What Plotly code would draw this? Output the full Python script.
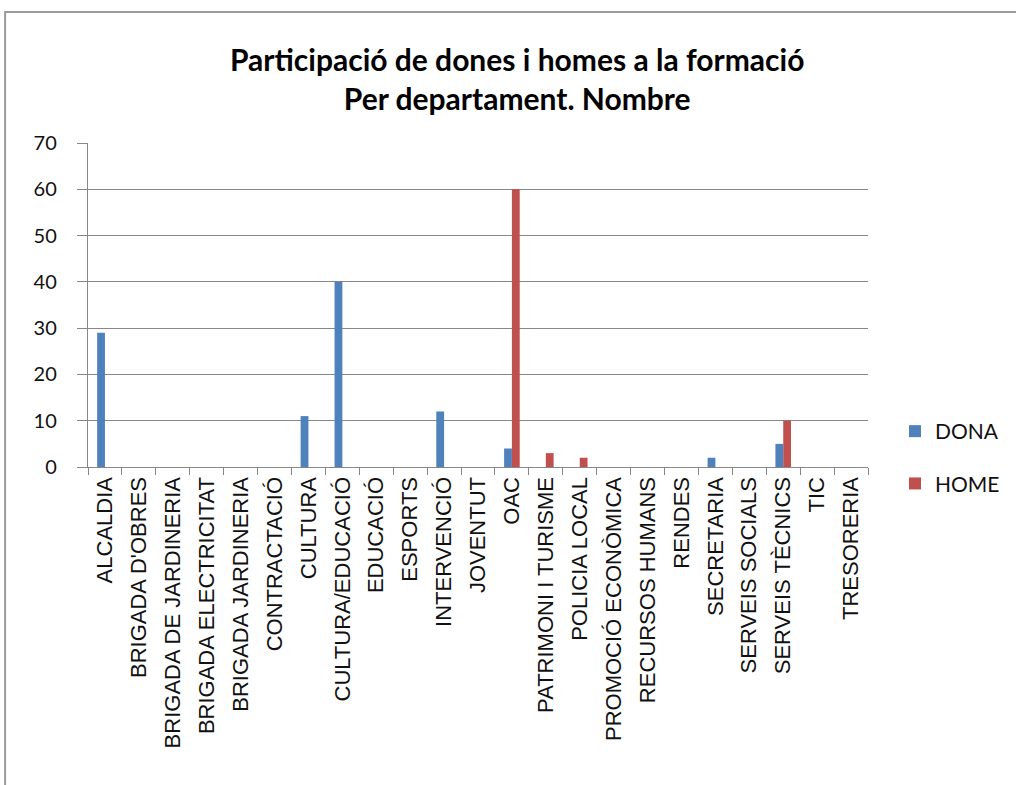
import plotly.graph_objects as go

departaments = [
    "ALCALDIA", "BRIGADA D'OBRES", "BRIGADA DE JARDINERIA", "BRIGADA ELECTRICITAT",
    "BRIGADA JARDINERIA", "CONTRACTACIÓ", "CULTURA", "CULTURA/EDUCACIÓ", "EDUCACIÓ",
    "ESPORTS", "INTERVENCIÓ", "JOVENTUT", "OAC", "PATRIMONI I TURISME", "POLICIA LOCAL",
    "PROMOCIÓ ECONÒMICA", "RECURSOS HUMANS", "RENDES", "SECRETARIA", "SERVEIS SOCIALS",
    "SERVEIS TÈCNICS", "TIC", "TRESORERIA",
]
dona = [29, 0, 0, 0, 0, 0, 11, 40, 0, 0, 12, 0, 4, 0, 0, 0, 0, 0, 2, 0, 5, 0, 0]
home = [0, 0, 0, 0, 0, 0, 0, 0, 0, 0, 0, 0, 60, 3, 2, 0, 0, 0, 0, 0, 10, 0, 0]
y_ticks = [0, 10, 20, 30, 40, 50, 60, 70]

GRID = "#878787"
SANS = "Liberation Sans, Arial, sans-serif"
HUMAN = "Lato, Liberation Sans, sans-serif"

fig = go.Figure()
fig.add_trace(go.Bar(x=departaments, y=dona, name="DONA", marker_color="#4F81BD",
                     marker_line_width=0, legendgroup="d"))
fig.add_trace(go.Bar(x=departaments, y=home, name="HOME", marker_color="#C0504D",
                     marker_line_width=0, legendgroup="h"))

W, H = 1016, 785
L, R, T, B = 88, 147, 143, 318
pw, ph = W - L - R, H - T - B

fig.update_layout(
    width=W, height=H,
    margin=dict(l=L, r=R, t=T, b=B, pad=0),
    paper_bgcolor="white", plot_bgcolor="white",
    barmode="group", bargap=0.54, bargroupgap=0,
    font=dict(family=HUMAN, size=18, color="#000000"),
    showlegend=True,
    legend=dict(x=(895 - L) / pw, xanchor="left", y=(467 - 411) / ph, yanchor="top",
                traceorder="grouped", tracegroupgap=22, itemwidth=30,
                font=dict(size=21, family=HUMAN, color="#111111"),
                bgcolor="rgba(0,0,0,0)"),
    xaxis=dict(
        type="category", tickangle=-90, tickson="boundaries",
        ticks="outside", ticklen=7, tickcolor=GRID, tickwidth=1.4,
        showline=True, linecolor=GRID, linewidth=1.4, showgrid=False,
        tickfont=dict(size=22, family=SANS, color="#111111"), automargin=False,
    ),
    yaxis=dict(
        range=[0, 70], tickvals=y_ticks, ticks="outside", ticklen=10,
        tickcolor=GRID, tickwidth=1.4, showline=True, linecolor=GRID, linewidth=1.4,
        showgrid=True, gridcolor=GRID, gridwidth=1.4, zeroline=False,
        ticklabelstandoff=16,
        tickfont=dict(size=20, family=HUMAN, color="#111111"), automargin=False,
    ),
)

# chart title, two centred bold lines
fig.add_annotation(
    xref="paper", yref="paper", x=(518 - L) / pw, y=(467 - 78) / ph,
    xanchor="center", yanchor="middle", showarrow=False,
    text="<b>Participació de dones i homes a la formació</b><br><b>Per departament. Nombre</b>",
    font=dict(size=30, family=HUMAN, color="#000000"), align="center",
)

# outer chart-area frame
fig.add_shape(type="rect", xref="paper", yref="paper",
              x0=(5 - L) / pw, x1=(1030 - L) / pw,
              y0=(467 - 800) / ph, y1=(467 - 12) / ph,
              line=dict(color="#9a9a9a", width=2), fillcolor="rgba(0,0,0,0)", layer="below")

fig.write_html("out.html")
